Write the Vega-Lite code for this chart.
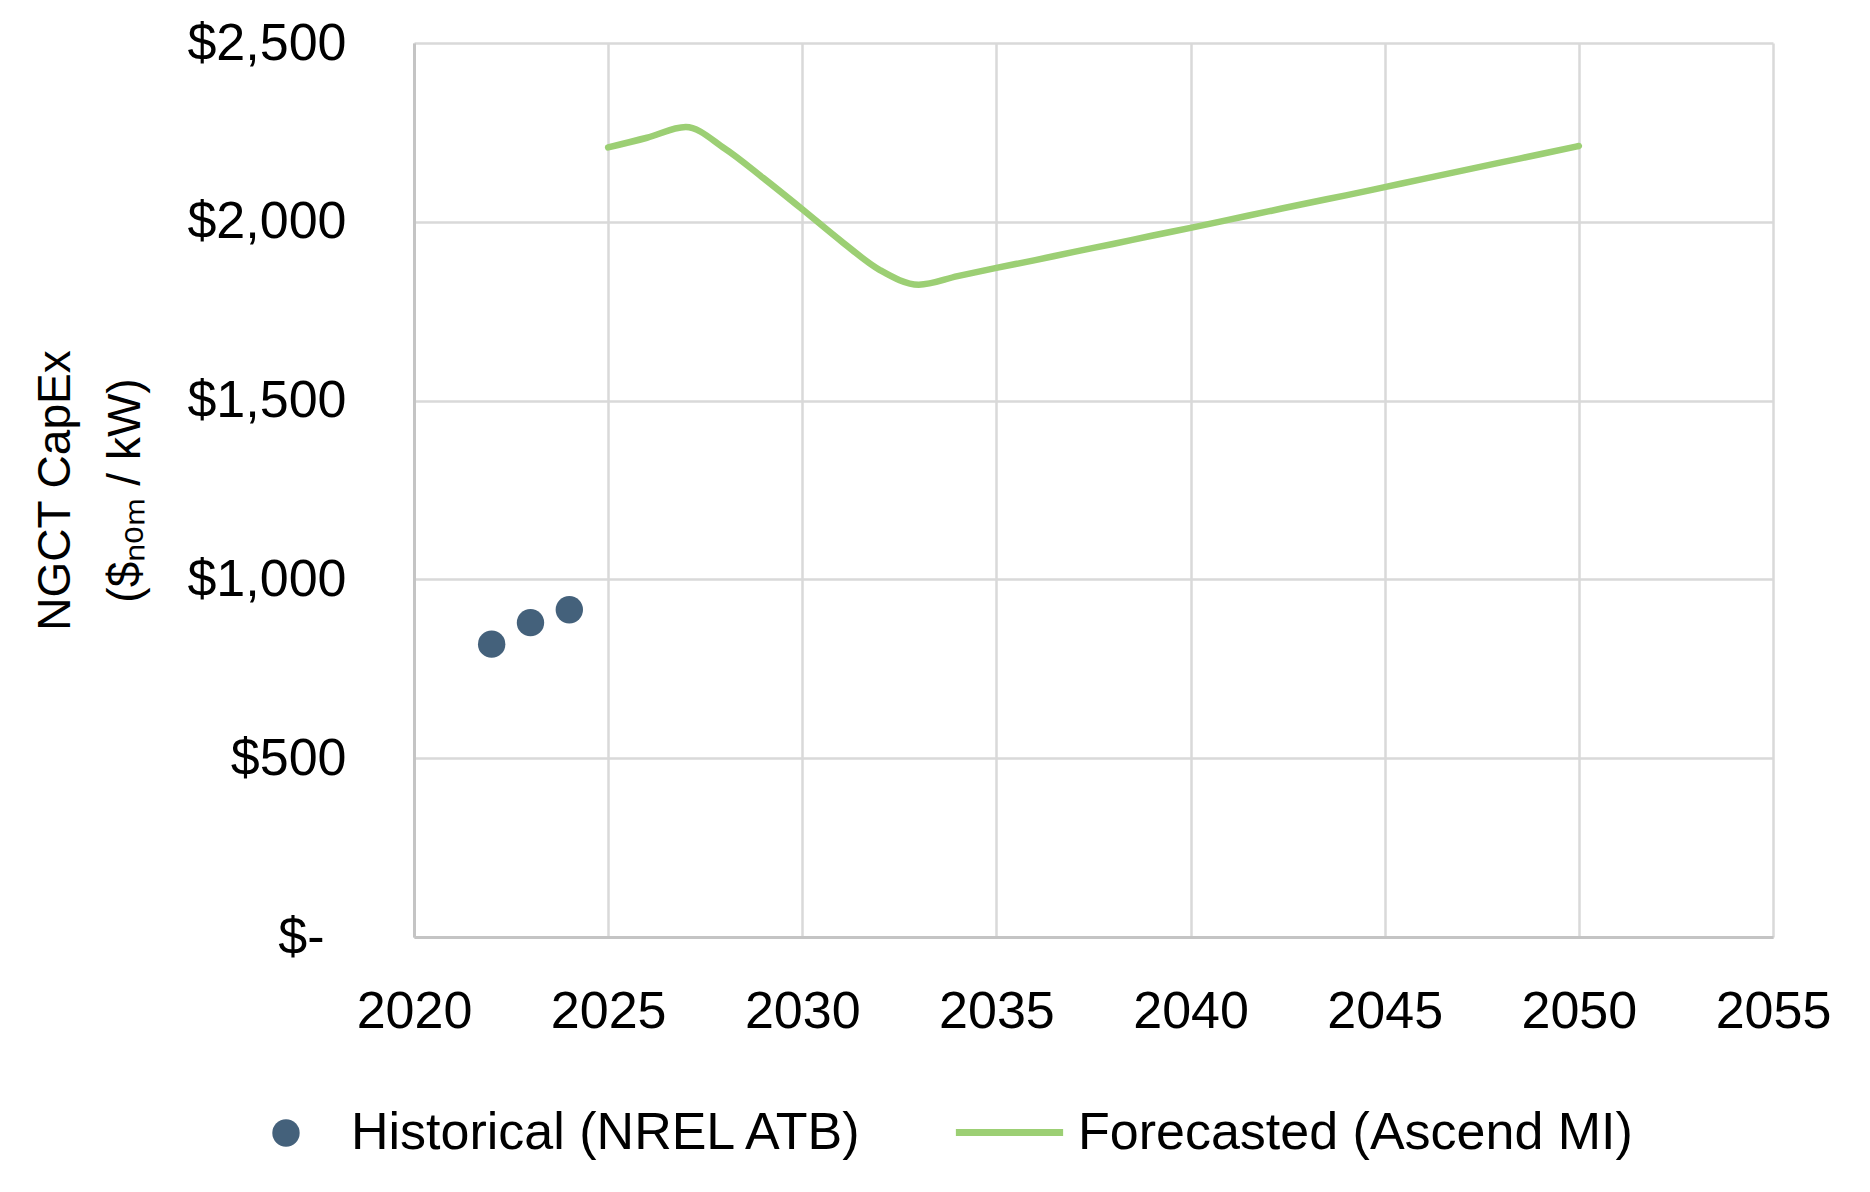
{
  "$schema": "https://vega.github.io/schema/vega-lite/v6.json",
  "width": 1359,
  "height": 894,
  "autosize": "none",
  "padding": {"left": 414, "top": 43, "right": 97, "bottom": 255},
  "background": "white",
  "config": {
    "view": {"stroke": null},
    "font": "Liberation Sans",
    "axis": {
      "labelFont": "Liberation Sans",
      "labelFontSize": 52,
      "labelColor": "#000000",
      "gridColor": "#d9d9d9",
      "gridWidth": 2.5,
      "domainColor": "#c4c4c4",
      "domainWidth": 3,
      "ticks": false,
      "tickSize": 0,
      "labelFlush": false,
      "labelOverlap": false,
      "labelBound": false
    },
    "legend": {
      "labelFont": "Liberation Sans",
      "labelFontSize": 52,
      "labelColor": "#000000",
      "labelLimit": 0,
      "padding": 0,
      "title": null
    }
  },
  "datasets": {
    "hist": [
      {"year": 2022, "capex": 819, "series": "Historical (NREL ATB)"},
      {"year": 2023, "capex": 879, "series": "Historical (NREL ATB)"},
      {"year": 2024, "capex": 915, "series": "Historical (NREL ATB)"}
    ],
    "fc": [
      {"year": 2025, "capex": 2208, "series": "Forecasted (Ascend MI)"},
      {"year": 2026, "capex": 2235, "series": "Forecasted (Ascend MI)"},
      {"year": 2027, "capex": 2265, "series": "Forecasted (Ascend MI)"},
      {"year": 2028, "capex": 2205, "series": "Forecasted (Ascend MI)"},
      {"year": 2029, "capex": 2122, "series": "Forecasted (Ascend MI)"},
      {"year": 2030, "capex": 2035, "series": "Forecasted (Ascend MI)"},
      {"year": 2031, "capex": 1946, "series": "Forecasted (Ascend MI)"},
      {"year": 2032, "capex": 1865, "series": "Forecasted (Ascend MI)"},
      {"year": 2033, "capex": 1824, "series": "Forecasted (Ascend MI)"},
      {"year": 2034, "capex": 1848, "series": "Forecasted (Ascend MI)"},
      {"year": 2035, "capex": 1871, "series": "Forecasted (Ascend MI)"},
      {"year": 2036, "capex": 1893, "series": "Forecasted (Ascend MI)"},
      {"year": 2037, "capex": 1916, "series": "Forecasted (Ascend MI)"},
      {"year": 2038, "capex": 1938, "series": "Forecasted (Ascend MI)"},
      {"year": 2039, "capex": 1961, "series": "Forecasted (Ascend MI)"},
      {"year": 2040, "capex": 1983, "series": "Forecasted (Ascend MI)"},
      {"year": 2041, "capex": 2006, "series": "Forecasted (Ascend MI)"},
      {"year": 2042, "capex": 2029, "series": "Forecasted (Ascend MI)"},
      {"year": 2043, "capex": 2052, "series": "Forecasted (Ascend MI)"},
      {"year": 2044, "capex": 2074, "series": "Forecasted (Ascend MI)"},
      {"year": 2045, "capex": 2097, "series": "Forecasted (Ascend MI)"},
      {"year": 2046, "capex": 2120, "series": "Forecasted (Ascend MI)"},
      {"year": 2047, "capex": 2143, "series": "Forecasted (Ascend MI)"},
      {"year": 2048, "capex": 2166, "series": "Forecasted (Ascend MI)"},
      {"year": 2049, "capex": 2189, "series": "Forecasted (Ascend MI)"},
      {"year": 2050, "capex": 2212, "series": "Forecasted (Ascend MI)"}
    ]
  },
  "encoding": {
    "x": {
      "field": "year",
      "type": "quantitative",
      "scale": {"domain": [2020, 2055], "nice": false, "zero": false},
      "axis": {
        "values": [2020, 2025, 2030, 2035, 2040, 2045, 2050, 2055],
        "format": "d",
        "title": null,
        "grid": true,
        "labelPadding": 49
      }
    },
    "y": {
      "field": "capex",
      "type": "quantitative",
      "scale": {"domain": [0, 2500], "nice": false},
      "axis": {
        "values": [0, 500, 1000, 1500, 2000, 2500],
        "labelExpr": "datum.value == 0 ? '$-' : format(datum.value, '$,')",
        "grid": true,
        "labelPadding": {"condition": {"test": "datum.value == 0", "value": 90}, "value": 68},
        "title": ["NGCT CapEx", "($ₙₒₘ / kW)"],
        "titleFont": "Liberation Sans",
        "titleFontSize": 46,
        "titleFontWeight": "normal",
        "titleColor": "#000000",
        "titleAngle": -90,
        "titleAlign": "center",
        "titleBaseline": "top",
        "titleLineHeight": 70,
        "titleX": -381,
        "titleY": 447
      }
    }
  },
  "layer": [
    {
      "data": {"name": "fc"},
      "mark": {"type": "line", "interpolate": "monotone", "strokeWidth": 6.5, "strokeCap": "round"},
      "encoding": {
        "stroke": {
          "field": "series",
          "type": "nominal",
          "scale": {"range": ["#9ccf74"]},
          "legend": {
            "orient": "none",
            "legendX": 538,
            "legendY": 1032,
            "symbolType": "stroke",
            "symbolSize": 11500,
            "symbolStrokeWidth": 7,
            "labelOffset": 11
          }
        }
      }
    },
    {
      "data": {"name": "hist"},
      "mark": {"type": "point", "filled": true, "size": 750, "opacity": 1},
      "encoding": {
        "fill": {
          "field": "series",
          "type": "nominal",
          "scale": {"range": ["#44617b"]},
          "legend": {
            "orient": "none",
            "legendX": -154,
            "legendY": 1064,
            "symbolType": "circle",
            "symbolSize": 750,
            "symbolOpacity": 1,
            "symbolStrokeWidth": 0,
            "labelOffset": 39
          }
        }
      }
    }
  ]
}
